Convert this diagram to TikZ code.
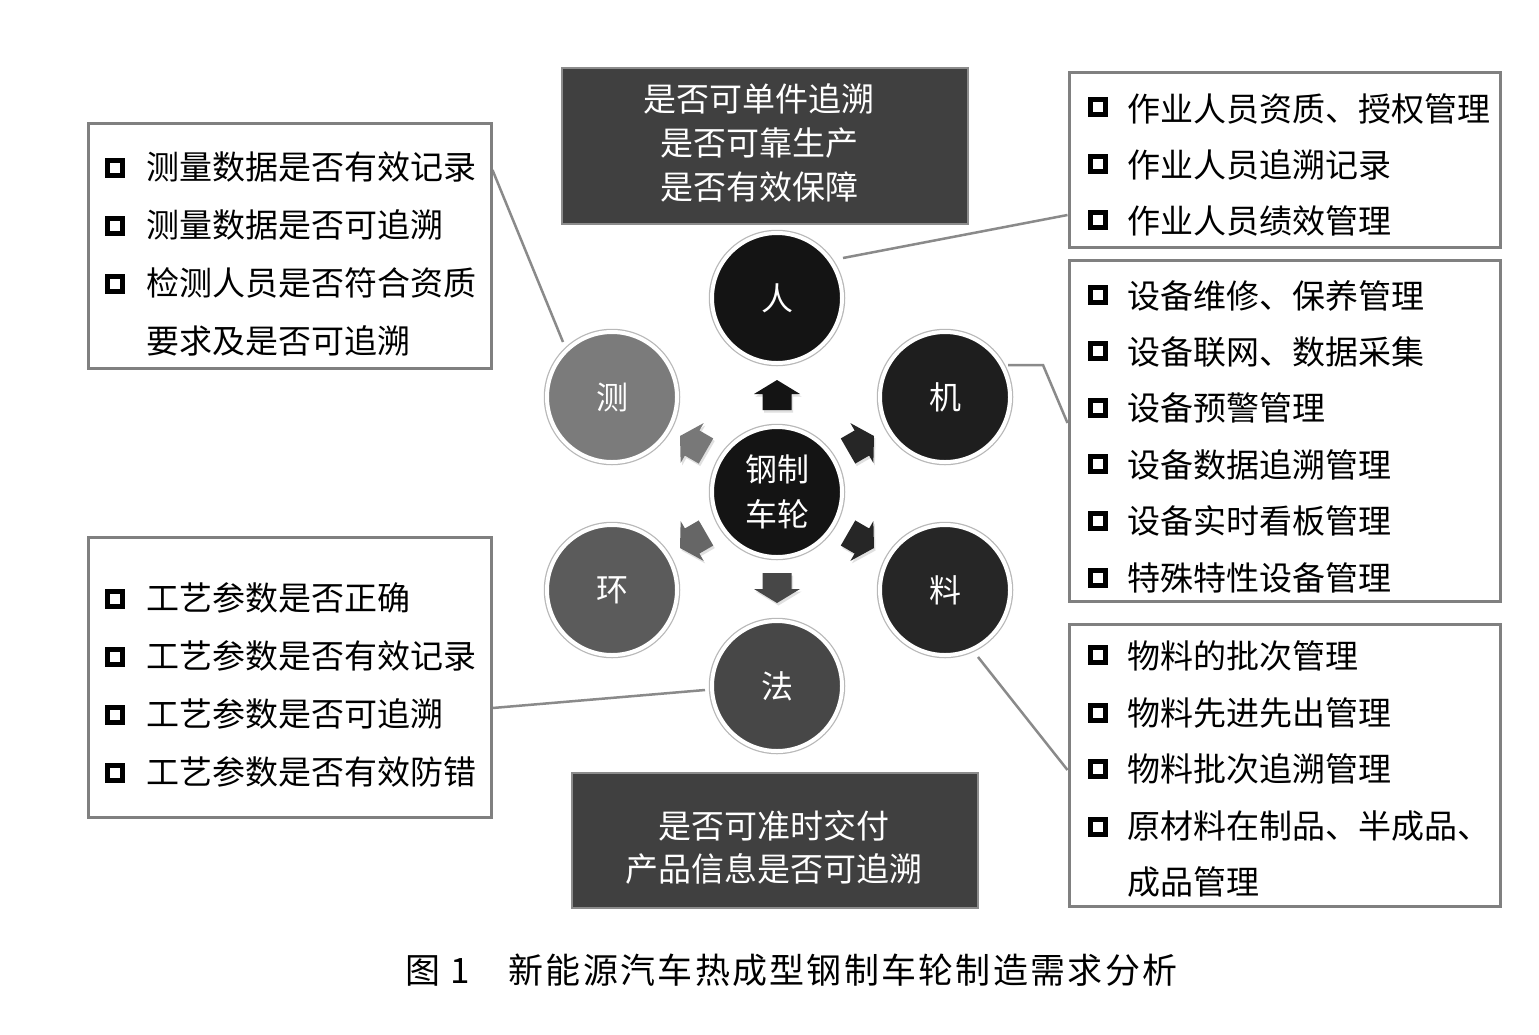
\documentclass[tikz,border=0pt]{standalone}
\usepackage{fontspec}
\setmainfont{Noto Sans CJK SC}
\newfontfamily\capfont[LetterSpace=6.5]{Noto Sans CJK SC}
\usetikzlibrary{calc,backgrounds}
\definecolor{cA}{HTML}{141414}
\definecolor{cB}{HTML}{1E1E1E}
\definecolor{cC}{HTML}{262626}
\definecolor{cD}{HTML}{474747}
\definecolor{cE}{HTML}{5B5B5B}
\definecolor{cF}{HTML}{7B7B7B}
\definecolor{darkfill}{HTML}{404040}
\definecolor{darkedge}{HTML}{8C8C8C}
\definecolor{boxedge}{HTML}{808080}
\definecolor{lineclr}{HTML}{8A8A8A}
\begin{document}
\begin{tikzpicture}[x=1pt,y=-1pt,
  circ/.style={circle, minimum size=130pt, inner sep=0pt, draw=white, line width=4pt,
    text=white, font=\fontsize{32}{40}\selectfont,
    preaction={draw=black!28, line width=6.5pt}},
  listbox/.style={rectangle, draw=boxedge, line width=3pt, fill=white, inner sep=0pt},
  darkbox/.style={rectangle, fill=darkfill, draw=darkedge, line width=2pt, inner sep=0pt},
  darktext/.style={text=white, align=center, inner sep=0pt, font=\fontsize{33}{44}\selectfont},
  item/.style={anchor=west, inner sep=0pt, font=\fontsize{33}{40}\selectfont},
  conn/.style={draw=lineclr, line width=2.5pt},
  bul/.style={draw=black, line width=5pt}
]
\useasboundingbox (0,0) rectangle (1539,1034);

% ---------- boxes ----------
\node[darkbox, minimum width=406pt, minimum height=156pt] (topq) at (765,146) {};
\node[darktext] (topt) at (759,143) {是否可单件追溯\\是否可靠生产\\是否有效保障};
\node[darkbox, minimum width=406pt, minimum height=135pt] (botq) at (775,840.5) {};
\node[darktext, font=\fontsize{33}{43}\selectfont] (bott) at (774,847.5) {是否可准时交付\\产品信息是否可追溯};

\node[listbox, minimum width=403pt, minimum height=245pt] (lt) at (289.5,245.5) {};
\node[listbox, minimum width=403pt, minimum height=280pt] (lb) at (289.5,677) {};
\node[listbox, minimum width=431pt, minimum height=175pt] (rt) at (1284.5,159.5) {};
\node[listbox, minimum width=431pt, minimum height=341pt] (rm) at (1284.5,430.5) {};
\node[listbox, minimum width=431pt, minimum height=282pt] (rb) at (1284.5,765) {};

% left top items
\node[item] (lt1) at (146,167) {测量数据是否有效记录};
\node[item] (lt2) at (146,225) {测量数据是否可追溯};
\node[item] (lt3) at (146,283) {检测人员是否符合资质};
\node[item] (lt4) at (146,341) {要求及是否可追溯};
% left bottom items
\node[item] (lb1) at (146,598) {工艺参数是否正确};
\node[item] (lb2) at (146,656) {工艺参数是否有效记录};
\node[item] (lb3) at (146,714) {工艺参数是否可追溯};
\node[item] (lb4) at (146,772) {工艺参数是否有效防错};
% right top items
\node[item] (rt1) at (1127,109) {作业人员资质、授权管理};
\node[item] (rt2) at (1127,165) {作业人员追溯记录};
\node[item] (rt3) at (1127,221) {作业人员绩效管理};
% right middle items
\node[item] (rm1) at (1127,296) {设备维修、保养管理};
\node[item] (rm2) at (1127,352) {设备联网、数据采集};
\node[item] (rm3) at (1127,408) {设备预警管理};
\node[item] (rm4) at (1127,465) {设备数据追溯管理};
\node[item] (rm5) at (1127,521) {设备实时看板管理};
\node[item] (rm6) at (1127,578) {特殊特性设备管理};
% right bottom items
\node[item] (rb1) at (1127,656) {物料的批次管理};
\node[item] (rb2) at (1127,713) {物料先进先出管理};
\node[item] (rb3) at (1127,769) {物料批次追溯管理};
\node[item] (rb4) at (1127,826) {原材料在制品、半成品、};
\node[item] (rb5) at (1127,882) {成品管理};

% bullets
\foreach \bx/\by in {115/168,115/226,115/284,115/599,115/657,115/715,115/773,
  1098/107,1098/164,1098/220,1098/295,1098/351,1098/408,1098/464,1098/521,1098/578,
  1098/655,1098/713,1098/769,1098/827}
  \draw[bul] (\bx-7.5,\by-7.5) rectangle (\bx+7.5,\by+7.5);

% ---------- circles ----------
\node[circ, fill=cA] (ren)  at (777,298) {人};
\node[circ, fill=cB] (ji)   at (945,397) {机};
\node[circ, fill=cC] (liao) at (945,590) {料};
\node[circ, fill=cD] (fa)   at (777,686) {法};
\node[circ, fill=cE] (huan) at (612,590) {环};
\node[circ, fill=cF] (ce)   at (612,397) {测};
\node[circ, fill=cA, align=center, font=\fontsize{32}{45}\selectfont] (hub) at (777,492) {钢制\\车轮};

% ---------- arrows ----------
\foreach \ax/\ay/\ang/\clr in {777/395/90/cA, 861/443.5/30/cC, 861/540.5/-30/cC,
  777/588/-90/cD, 693/540.5/-150/black!60, 693/443.5/150/black!53}{
  \fill[black!12, shift={(\ax+1.5,\ay+2.5)}, rotate=\ang]
    (-15,-14.5) -- (1,-14.5) -- (1,-23) -- (15,0) -- (1,23) -- (1,14.5) -- (-15,14.5) -- cycle;
  \fill[\clr, shift={(\ax,\ay)}, rotate=\ang]
    (-15,-14.5) -- (1,-14.5) -- (1,-23) -- (15,0) -- (1,23) -- (1,14.5) -- (-15,14.5) -- cycle;
}

% ---------- connectors ----------
\begin{scope}[on background layer]
  \fill[white] (0,0) rectangle (1539,1034);
  \draw[conn] ([shift={(66,-40)}]ren.center) -- ([shift={(0,55.5)}]rt.west);
  \draw[conn] ([shift={(63,-32)}]ji.center) -- ++(35,0) -- ([shift={(0,-7.5)}]rm.west);
  \draw[conn] ([shift={(33,67)}]liao.center) -- ([shift={(0,5)}]rb.west);
  \draw[conn] ([shift={(-72,4)}]fa.center) -- ([shift={(0,31)}]lb.east);
  \draw[conn] ([shift={(-49,-55)}]ce.center) -- ([shift={(0,-75.5)}]lt.east);
\end{scope}

% ---------- caption ----------
\node[anchor=west, inner sep=0pt, font=\fontsize{35}{40}\selectfont] (cap) at (405,970)
  {图\hspace{0.3em}1\hspace{1.1em}{\capfont 新能源汽车热成型钢制车轮制造需求分析}};
\end{tikzpicture}
\end{document}
